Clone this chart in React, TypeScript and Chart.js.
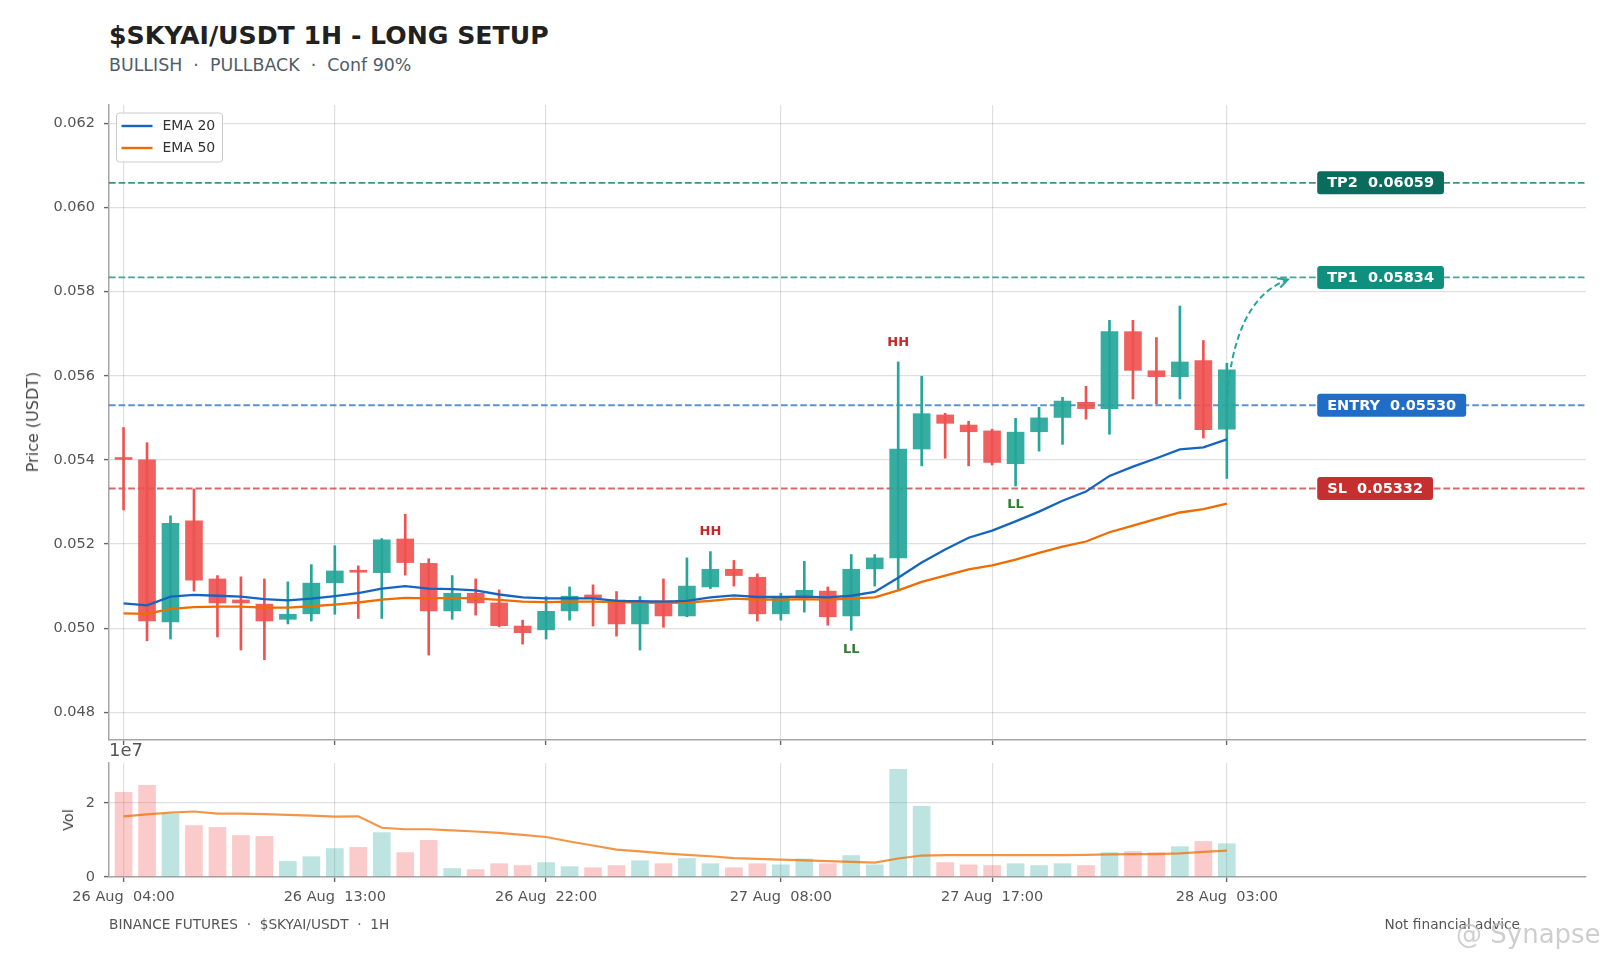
import React, { useEffect, useRef } from "react";
import Chart from "chart.js/auto";

const FONT = "'DejaVu Sans', 'Liberation Sans', sans-serif";

// ---------- data ----------
const tickIndex = [0, 9, 18, 28, 37, 47];
const tickLabels = ["26 Aug  04:00", "26 Aug  13:00", "26 Aug  22:00", "27 Aug  08:00", "27 Aug  17:00", "28 Aug  03:00"];
const priceTicks = [0.048, 0.05, 0.052, 0.054, 0.056, 0.058, 0.06, 0.062];
const volTicks = [0, 2e7];

const opens = [
  0.05402, 0.054, 0.05015, 0.05255, 0.05117, 0.05067, 0.05057, 0.05021, 0.05034, 0.05108,
  0.05136, 0.05132, 0.05212, 0.05154, 0.05041, 0.05083, 0.0506, 0.05005, 0.04996, 0.05041,
  0.05079, 0.05067, 0.0501, 0.05065, 0.05029, 0.05098, 0.0514, 0.05121, 0.05034, 0.05073,
  0.05088, 0.05029, 0.05141, 0.05167, 0.05426, 0.05507, 0.05483, 0.05469, 0.05391, 0.05467,
  0.05501, 0.05537, 0.05522, 0.05705, 0.05612, 0.05598, 0.05636, 0.05473,
];
const highs = [
  0.05477, 0.05441, 0.05267, 0.05331, 0.05125, 0.05122, 0.05117, 0.0511, 0.05151, 0.05196,
  0.05148, 0.05213, 0.05271, 0.05165, 0.05125, 0.05117, 0.05091, 0.05019, 0.05075, 0.05098,
  0.05103, 0.05087, 0.05075, 0.05117, 0.05167, 0.05182, 0.05161, 0.05129, 0.05083, 0.05159,
  0.05098, 0.05175, 0.05175, 0.05633, 0.05599, 0.05511, 0.05492, 0.05473, 0.05499, 0.05525,
  0.05549, 0.05575, 0.05732, 0.05732, 0.05691, 0.05766, 0.05684, 0.0563,
];
const lows = [
  0.05281, 0.0497, 0.04974, 0.05088, 0.04979, 0.04948, 0.04925, 0.0501, 0.05017, 0.05033,
  0.05023, 0.05023, 0.05126, 0.04936, 0.05021, 0.05031, 0.05003, 0.04962, 0.04974, 0.05019,
  0.05005, 0.04981, 0.04948, 0.05002, 0.05027, 0.05094, 0.051, 0.05017, 0.05019, 0.05038,
  0.05007, 0.04995, 0.051, 0.05092, 0.05386, 0.05404, 0.05386, 0.05388, 0.05338, 0.05421,
  0.05437, 0.05497, 0.05461, 0.05545, 0.05533, 0.05545, 0.05452, 0.05356,
];
const closes = [
  0.05401, 0.05017, 0.05249, 0.05114, 0.0506, 0.0506, 0.05017, 0.05033, 0.05107, 0.05136,
  0.05133, 0.0521, 0.05156, 0.05041, 0.05083, 0.0506, 0.05006, 0.04989, 0.0504, 0.05076,
  0.05072, 0.0501, 0.05059, 0.05029, 0.051, 0.0514, 0.05125, 0.05034, 0.05071, 0.0509,
  0.05027, 0.0514, 0.05167, 0.05426, 0.0551, 0.05487, 0.05467, 0.05394, 0.05466, 0.055,
  0.0554, 0.05522, 0.05705, 0.05613, 0.05598, 0.05633, 0.05472, 0.05614,
];
const ema20 = [
  0.05059, 0.05054, 0.05075, 0.05079, 0.05077, 0.05075, 0.05069, 0.05066, 0.0507, 0.05076,
  0.05083, 0.05094, 0.051, 0.05094, 0.05093, 0.0509, 0.0508, 0.05073, 0.05071, 0.05071,
  0.05071, 0.05065, 0.05064, 0.05063, 0.05065, 0.05073, 0.05078, 0.05074, 0.05074, 0.05075,
  0.05073, 0.05077, 0.05086, 0.0512, 0.05156, 0.05187, 0.05215, 0.05232, 0.05254, 0.05277,
  0.05303, 0.05325, 0.05362, 0.05384, 0.05404, 0.05425, 0.0543, 0.05449,
];
const ema50 = [
  0.05035, 0.05034, 0.05046, 0.0505, 0.05051, 0.05051, 0.05049, 0.05049, 0.05052, 0.05056,
  0.05061, 0.05068, 0.05072, 0.05071, 0.05072, 0.05071, 0.05067, 0.05063, 0.05062, 0.05063,
  0.05063, 0.05062, 0.05061, 0.0506, 0.05061, 0.05065, 0.0507, 0.05068, 0.05068, 0.05069,
  0.05068, 0.0507, 0.05073, 0.0509, 0.0511, 0.05125, 0.0514, 0.05149, 0.05163, 0.05179,
  0.05194, 0.05206, 0.05228, 0.05244, 0.0526, 0.05275, 0.05283, 0.05296,
];
const volumes = [
  2.29e7, 2.48e7, 1.7e7, 1.39e7, 1.34e7, 1.12e7, 1.1e7, 0.42e7, 0.55e7, 0.77e7,
  0.8e7, 1.2e7, 0.66e7, 0.99e7, 0.23e7, 0.2e7, 0.36e7, 0.31e7, 0.39e7, 0.28e7,
  0.25e7, 0.31e7, 0.44e7, 0.36e7, 0.5e7, 0.36e7, 0.25e7, 0.36e7, 0.33e7, 0.49e7,
  0.36e7, 0.58e7, 0.33e7, 2.91e7, 1.91e7, 0.39e7, 0.33e7, 0.31e7, 0.36e7, 0.31e7,
  0.36e7, 0.31e7, 0.66e7, 0.69e7, 0.66e7, 0.82e7, 0.96e7, 0.9e7,
];
const volMA = [
  1.64e7, 1.69e7, 1.74e7, 1.77e7, 1.71e7, 1.71e7, 1.7e7, 1.68e7, 1.66e7, 1.63e7,
  1.64e7, 1.33e7, 1.29e7, 1.29e7, 1.26e7, 1.23e7, 1.19e7, 1.14e7, 1.08e7, 0.96e7,
  0.85e7, 0.74e7, 0.69e7, 0.64e7, 0.6e7, 0.56e7, 0.51e7, 0.49e7, 0.47e7, 0.45e7,
  0.43e7, 0.41e7, 0.39e7, 0.5e7, 0.58e7, 0.59e7, 0.59e7, 0.59e7, 0.59e7, 0.59e7,
  0.59e7, 0.6e7, 0.61e7, 0.62e7, 0.62e7, 0.64e7, 0.68e7, 0.71e7,
];

const levelNames = ["TP2", "TP1", "ENTRY", "SL"];
const levelValues = [0.06059, 0.05834, 0.0553, 0.05332];
const levelLineColors = ["rgba(0,105,92,0.75)", "rgba(0,137,123,0.75)", "rgba(21,101,192,0.7)", "rgba(198,40,40,0.7)"];
const levelBoxColors = ["#0b6b5d", "#0f8f7e", "#1f6dc6", "#c62f2f"];
const levelLabelX = 50.85;

const swingIdx = [25, 33, 31, 38];
const swingType = ["HH", "HH", "LL", "LL"];

const arrowFrom = [47, 0.0553];
const arrowCtrl = [47.23, 0.0578];
const arrowTo = [49.6, 0.05829];

const X_MIN = -0.62;
const X_MAX = 62.3;
const Y_MIN = 0.04734;
const Y_MAX = 0.06244;
const VOL_MAX = 3.08e7;

const UP = "#26a69a";
const DOWN = "#ef5350";
const UP_BODY = "rgba(38,166,154,0.92)";
const DOWN_BODY = "rgba(239,83,80,0.92)";
const UP_VOL = "rgba(38,166,154,0.3)";
const DOWN_VOL = "rgba(239,83,80,0.3)";

const idx = opens.map((_, i) => i);
const isUp = idx.map((i) => closes[i] >= opens[i]);

const GRID = "rgba(0,0,0,0.12)";
const SPINE = "#a6a6a6";
const TICKC = "#666666";

function xScaleOpts(showLabels: boolean, height: number) {
  return {
    type: "linear" as const,
    min: X_MIN,
    max: X_MAX,
    offset: false,
    afterBuildTicks: (s: any) => {
      s.ticks = tickIndex.map((v) => ({ value: v }));
    },
    afterFit: (s: any) => {
      s.height = height;
    },
    grid: {
      display: true,
      offset: false,
      color: GRID,
      lineWidth: 1.2,
      drawTicks: true,
      tickLength: 5,
      tickColor: TICKC,
      tickWidth: 1.4,
    },
    border: { display: true, color: SPINE, width: 1.5 },
    ticks: {
      display: showLabels,
      autoSkip: false,
      maxRotation: 0,
      minRotation: 0,
      padding: 7,
      color: "#555",
      font: { family: FONT, size: 14.5 },
      callback: (_v: any, i: number) => tickLabels[i],
    },
  };
}

function yScaleOpts(min: number, max: number, ticks: number[], fmt: (v: number) => string) {
  return {
    type: "linear" as const,
    min,
    max,
    afterBuildTicks: (s: any) => {
      s.ticks = ticks.map((v) => ({ value: v }));
    },
    afterFit: (s: any) => {
      s.width = 109;
    },
    grid: {
      display: true,
      offset: false,
      color: GRID,
      lineWidth: 1.2,
      drawTicks: true,
      tickLength: 5,
      tickColor: TICKC,
      tickWidth: 1.4,
    },
    border: { display: true, color: SPINE, width: 1.5 },
    ticks: {
      padding: 9,
      color: "#555",
      font: { family: FONT, size: 14.5 },
      callback: (v: any) => fmt(Number(v)),
    },
  };
}

const priceDecor = {
  id: "priceDecor",
  beforeDatasetsDraw(chart: any) {
    const { ctx, chartArea, scales } = chart;
    const y = scales.y;
    ctx.save();
    ctx.beginPath();
    ctx.rect(chartArea.left, chartArea.top, chartArea.right - chartArea.left, chartArea.bottom - chartArea.top);
    ctx.clip();
    levelValues.forEach((v, k) => {
      const py = y.getPixelForValue(v);
      ctx.strokeStyle = levelLineColors[k];
      ctx.lineWidth = 1.8;
      ctx.setLineDash([6.7, 2.9]);
      ctx.beginPath();
      ctx.moveTo(chartArea.left, py);
      ctx.lineTo(chartArea.right, py);
      ctx.stroke();
    });
    ctx.restore();
  },
  afterDatasetsDraw(chart: any) {
    const { ctx, chartArea, scales } = chart;
    const x = scales.x;
    const y = scales.y;
    ctx.save();

    // swing labels
    ctx.font = `bold 13px ${FONT}`;
    ctx.textAlign = "center";
    ctx.textBaseline = "middle";
    swingIdx.forEach((i, k) => {
      const hh = swingType[k] === "HH";
      const v = hh ? highs[i] + 0.00047 : lows[i] - 0.00045;
      ctx.fillStyle = hh ? "#c62828" : "#2e7d32";
      ctx.fillText(swingType[k], x.getPixelForValue(i), y.getPixelForValue(v));
    });

    // curved arrow
    const p0 = { x: x.getPixelForValue(arrowFrom[0]), y: y.getPixelForValue(arrowFrom[1]) };
    const pc = { x: x.getPixelForValue(arrowCtrl[0]), y: y.getPixelForValue(arrowCtrl[1]) };
    const p2 = { x: x.getPixelForValue(arrowTo[0]), y: y.getPixelForValue(arrowTo[1]) };
    ctx.strokeStyle = UP;
    ctx.lineWidth = 2;
    ctx.setLineDash([6, 3.5]);
    ctx.beginPath();
    ctx.moveTo(p0.x, p0.y);
    ctx.quadraticCurveTo(pc.x, pc.y, p2.x, p2.y);
    ctx.stroke();
    ctx.setLineDash([]);
    const ang = Math.atan2(p2.y - pc.y, p2.x - pc.x);
    const L = 11;
    ctx.beginPath();
    ctx.moveTo(p2.x + L * Math.cos(ang + Math.PI - 0.45), p2.y + L * Math.sin(ang + Math.PI - 0.45));
    ctx.lineTo(p2.x, p2.y);
    ctx.lineTo(p2.x + L * Math.cos(ang + Math.PI + 0.45), p2.y + L * Math.sin(ang + Math.PI + 0.45));
    ctx.stroke();

    // level boxes
    ctx.font = `bold 14.5px ${FONT}`;
    ctx.textAlign = "left";
    ctx.textBaseline = "middle";
    levelValues.forEach((v, k) => {
      const txt = `${levelNames[k]}  ${v.toFixed(5)}`;
      const w = ctx.measureText(txt).width + 20;
      const h = 23;
      const bx = x.getPixelForValue(levelLabelX);
      const by = y.getPixelForValue(v);
      ctx.fillStyle = levelBoxColors[k];
      ctx.beginPath();
      ctx.roundRect(bx, by - h / 2, w, h, 3);
      ctx.fill();
      ctx.fillStyle = "#ffffff";
      ctx.fillText(txt, bx + 10, by + 0.5);
    });

    // legend
    const lx = chartArea.left + 7.5;
    const ly = chartArea.top + 8;
    ctx.fillStyle = "rgba(255,255,255,0.85)";
    ctx.strokeStyle = "#cccccc";
    ctx.lineWidth = 1;
    ctx.beginPath();
    ctx.roundRect(lx, ly, 106, 49, 3);
    ctx.fill();
    ctx.stroke();
    const rows = [
      { name: "EMA 20", color: "#1565c0" },
      { name: "EMA 50", color: "#ef6c00" },
    ];
    ctx.font = `14px ${FONT}`;
    rows.forEach((r, k) => {
      const ry = ly + 13 + k * 22;
      ctx.strokeStyle = r.color;
      ctx.lineWidth = 2.4;
      ctx.beginPath();
      ctx.moveTo(lx + 5, ry);
      ctx.lineTo(lx + 36, ry);
      ctx.stroke();
      ctx.fillStyle = "#333";
      ctx.fillText(r.name, lx + 46, ry + 0.5);
    });
    ctx.restore();
  },
};

const volDecor = {
  id: "volDecor",
  afterDraw(chart: any) {
    const { ctx, chartArea } = chart;
    ctx.save();
    ctx.font = `18px ${FONT}`;
    ctx.fillStyle = "#555";
    ctx.textAlign = "left";
    ctx.textBaseline = "middle";
    ctx.fillText("1e7", chartArea.left, chartArea.top - 12);
    ctx.restore();
  },
};

export default function App() {
  const priceRef = useRef<HTMLCanvasElement | null>(null);
  const volRef = useRef<HTMLCanvasElement | null>(null);

  useEffect(() => {
    if (!priceRef.current || !volRef.current) return;
    const price = new Chart(priceRef.current, {
      type: "bar",
      data: {
        datasets: [
          {
            type: "line",
            label: "EMA 20",
            data: idx.map((i) => ({ x: i, y: ema20[i] })),
            borderColor: "#1565c0",
            borderWidth: 2.3,
            pointRadius: 0,
            tension: 0,
            order: 0,
          } as any,
          {
            type: "line",
            label: "EMA 50",
            data: idx.map((i) => ({ x: i, y: ema50[i] })),
            borderColor: "#ef6c00",
            borderWidth: 2.3,
            pointRadius: 0,
            tension: 0,
            order: 0,
          } as any,
          {
            type: "bar",
            label: "body",
            data: idx.map((i) => ({ x: i, y: [opens[i], closes[i]] })),
            backgroundColor: idx.map((i) => (isUp[i] ? UP_BODY : DOWN_BODY)),
            borderWidth: 0,
            barThickness: 17,
            minBarLength: 2,
            grouped: false,
            order: 1,
          } as any,
          {
            type: "bar",
            label: "wick",
            data: idx.map((i) => ({ x: i, y: [lows[i], highs[i]] })),
            backgroundColor: idx.map((i) => (isUp[i] ? UP : DOWN)),
            borderWidth: 0,
            barThickness: 2,
            grouped: false,
            order: 2,
          } as any,
        ],
      },
      options: {
        animation: false,
        responsive: false,
        events: [],
        layout: { padding: { top: 105, right: 26, left: 0, bottom: 0 } },
        plugins: { legend: { display: false }, tooltip: { enabled: false }, title: { display: false } },
        scales: {
          x: xScaleOpts(false, 20) as any,
          y: yScaleOpts(Y_MIN, Y_MAX, priceTicks, (v) => v.toFixed(3)) as any,
        },
      },
      plugins: [priceDecor],
    });

    const vol = new Chart(volRef.current, {
      type: "bar",
      data: {
        datasets: [
          {
            type: "line",
            label: "Vol MA",
            data: idx.map((i) => ({ x: i, y: volMA[i] })),
            borderColor: "rgba(239,108,0,0.72)",
            borderWidth: 2.2,
            pointRadius: 0,
            tension: 0,
            order: 0,
          } as any,
          {
            type: "bar",
            label: "Volume",
            data: idx.map((i) => ({ x: i, y: volumes[i] })),
            backgroundColor: idx.map((i) => (isUp[i] ? UP_VOL : DOWN_VOL)),
            borderWidth: 0,
            barThickness: 17,
            grouped: false,
            order: 1,
          } as any,
        ],
      },
      options: {
        animation: false,
        responsive: false,
        events: [],
        layout: { padding: { top: 33, right: 26, left: 0, bottom: 0 } },
        plugins: { legend: { display: false }, tooltip: { enabled: false }, title: { display: false } },
        scales: {
          x: xScaleOpts(true, 80) as any,
          y: yScaleOpts(0, VOL_MAX, volTicks, (v) => String(Math.round(v / 1e7))) as any,
        },
      },
      plugins: [volDecor],
    });

    return () => {
      price.destroy();
      vol.destroy();
    };
  }, []);

  const abs: React.CSSProperties = { position: "absolute", whiteSpace: "pre", fontFamily: FONT };

  return (
    <div style={{ position: "absolute", left: 0, top: 0, width: 1612, height: 957, overflow: "hidden", background: "#ffffff" }}>
      <div style={{ ...abs, left: 109, top: 21, fontSize: 25.2, lineHeight: "30px", fontWeight: "bold", color: "#212121" }}>
        $SKYAI/USDT 1H - LONG SETUP
      </div>
      <div style={{ ...abs, left: 109, top: 54, fontSize: 17.4, lineHeight: "22px", color: "#4f5d69" }}>
        {"BULLISH  ·  PULLBACK  ·  Conf 90%"}
      </div>
      <canvas ref={priceRef} width={1612} height={760} style={{ position: "absolute", left: 0, top: 0, width: 1612, height: 760 }} />
      <canvas ref={volRef} width={1612} height={227} style={{ position: "absolute", left: 0, top: 730, width: 1612, height: 227 }} />
      <div style={{ ...abs, left: 33, top: 422, fontSize: 16, lineHeight: "18px", color: "#444", transform: "translate(-50%, -50%) rotate(-90deg)" }}>
        Price (USDT)
      </div>
      <div style={{ ...abs, left: 68, top: 820, fontSize: 14.5, lineHeight: "18px", color: "#444", transform: "translate(-50%, -50%) rotate(-90deg)" }}>
        Vol
      </div>
      <div style={{ ...abs, left: 109, top: 916, fontSize: 13.7, lineHeight: "16px", color: "#555" }}>
        {"BINANCE FUTURES  ·  $SKYAI/USDT  ·  1H"}
      </div>
      <div style={{ ...abs, right: 1612 - 1520, top: 916, fontSize: 13.7, lineHeight: "16px", color: "#555" }}>
        Not financial advice
      </div>
      <div style={{ ...abs, left: 1456, top: 919, fontSize: 26, lineHeight: "30px", color: "rgba(190,190,190,0.75)" }}>
        @ Synapse
      </div>
    </div>
  );
}
